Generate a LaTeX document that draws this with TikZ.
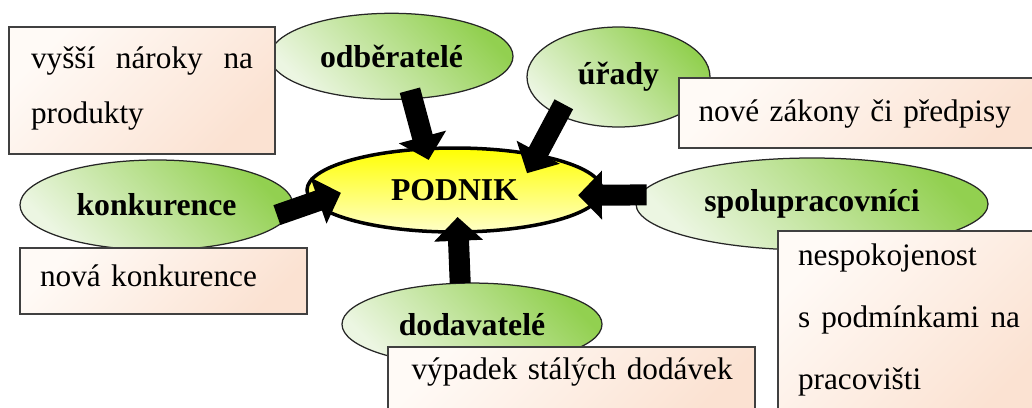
\documentclass[tikz,border=0pt]{standalone}
\usepackage{fontspec}
\setmainfont{Liberation Serif}
\usetikzlibrary{shapes.geometric,arrows.meta}

\definecolor{zelena}{RGB}{146,208,80}
\definecolor{svetlazelena}{RGB}{236,246,226}
\definecolor{broskev}{RGB}{251,226,210}
\definecolor{svetlabroskev}{RGB}{255,250,246}
\definecolor{zluta}{RGB}{255,255,0}
\definecolor{svetlazluta}{RGB}{255,255,200}
\definecolor{ramecek}{RGB}{64,64,64}

\tikzset{
  okoli/.style={ellipse, draw=black!85, line width=0.5pt, inner sep=0pt, outer sep=0pt,
    top color=zelena, bottom color=svetlazelena, shading angle=-45,
    font=\fontsize{12.7}{15}\selectfont\bfseries},
  stred/.style={ellipse, draw=black, line width=1.4pt, inner sep=0pt, outer sep=0pt,
    top color=zluta, bottom color=svetlazluta,
    font=\fontsize{12.7}{15}\selectfont\bfseries},
  dopad/.style={rectangle, draw=ramecek, line width=0.8pt, anchor=north west, outer sep=0pt,
    top color=svetlabroskev, bottom color=broskev, shading angle=45,
    text height=9pt, align=left, font=\fontsize{12.5}{15}\selectfont},
  sipka/.style={line width=8.4pt, -{Triangle[width=19pt,length=9.5pt]}}
}

\begin{document}
\begin{tikzpicture}[x=0.4pt,y=-0.4pt]
  \clip (0,0) rectangle (1032,407);
  % okolni subjekty
  \node[okoli, minimum width=97.2pt, minimum height=34.4pt] (odberatele) at (391.5,56.3) {odběratelé};
  \node[okoli, minimum width=73.2pt, minimum height=40pt] (urady) at (618.5,77) {úřady};
  \node[okoli, minimum width=109.2pt, minimum height=36pt] (konkurence) at (156.5,205) {konkurence};
  \node[okoli, minimum width=140.8pt, minimum height=36.8pt] (spolupracovnici) at (812,204) {spolupracovníci};
  \node[okoli, minimum width=104pt, minimum height=33pt] (dodavatele) at (472,324.3) {dodavatelé};
  % zmeny
  \node[dopad, text width=88.8pt, inner xsep=8.8pt, inner ysep=7.4pt, text depth=27pt,
    align=justify, font=\fontsize{12.5}{22}\selectfont] (naroky) at (9,27)
    {vyšší nároky na\linebreak produkty};
  \node[dopad, text width=130.8pt, inner xsep=7.8pt, inner ysep=8.2pt, text depth=2.6pt] (zakony) at (679,78)
    {\mbox{nové zákony či předpisy}};
  \node[dopad, text width=98.8pt, inner xsep=8pt, inner ysep=6.4pt, text depth=4.5pt] (novakonk) at (20,248.3)
    {\mbox{nová konkurence}};
  \node[dopad, text width=128.1pt, inner xsep=9.3pt, inner ysep=4.3pt, text depth=11.7pt] (vypadek) at (388.3,346.7)
    {\mbox{výpadek stálých dodávek}};
  \node[dopad, text width=88.8pt, inner xsep=8pt, inner ysep=4.6pt, text depth=57.4pt,
    align=justify, font=\fontsize{12.5}{24.8}\selectfont] (nespokojenost) at (778,231)
    {nespokojenost\\ s podmínkami na\linebreak pracovišti};
  % podnik
  \node[stred, minimum width=118pt, minimum height=33.6pt] (podnik) at (454.5,190) {PODNIK};
  % sipky
  \draw[sipka, shorten <=-3.5pt, shorten >=-4.6pt] (odberatele.-64.7) -- (podnik.125.8);
  \draw[sipka, shorten <=-4.7pt, shorten >=-8.2pt] (urady.212.4) -- (podnik.23.9);
  \draw[sipka, shorten <=-6.5pt, shorten >=-11.6pt] (konkurence.-2.9) -- (podnik.185.9);
  \draw[sipka, shorten >=-6pt] (dodavatele.106.2) -- (podnik.-85);
  \draw[sipka, shorten <=-2.9pt, shorten >=-9.1pt] (spolupracovnici.177.9) -- (podnik.-2.1);
\end{tikzpicture}
\end{document}
